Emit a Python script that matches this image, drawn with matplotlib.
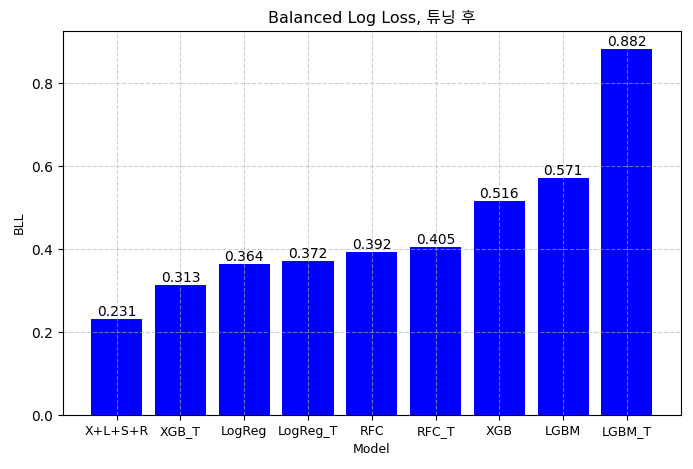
import matplotlib
matplotlib.use('Agg')
import matplotlib.pyplot as plt

plt.rcParams['font.family'] = ['DejaVu Sans', 'Noto Sans CJK KR']
plt.rcParams['axes.unicode_minus'] = False

models = ['X+L+S+R', 'XGB_T', 'LogReg', 'LogReg_T', 'RFC', 'RFC_T', 'XGB', 'LGBM', 'LGBM_T']
bll = [0.231, 0.313, 0.364, 0.372, 0.392, 0.405, 0.516, 0.571, 0.882]

fig, ax = plt.subplots(figsize=(6.93, 4.69), dpi=100)
bars = ax.bar(models, bll, color='blue')
for b, v in zip(bars, bll):
    ax.text(b.get_x() + b.get_width() / 2, v, f'{v:.3f}', ha='center', va='bottom', fontsize=10)

ax.set_title('Balanced Log Loss, 튜닝 후', fontsize=11.5)
ax.set_xlabel('Model', fontsize=9)
ax.set_ylabel('BLL', fontsize=9)
ax.grid(True, linestyle='--', alpha=0.6)
ax.tick_params(axis='x', labelsize=9)
ax.tick_params(axis='y', labelsize=10)

fig.subplots_adjust(left=0.091, right=0.982, top=0.934, bottom=0.115)
fig.savefig('out.png', dpi=100)
